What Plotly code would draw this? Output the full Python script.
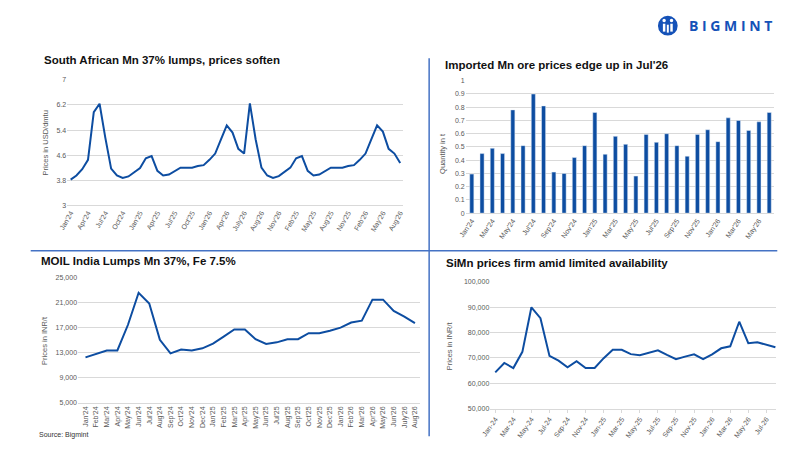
import plotly.graph_objects as go

W, H = 800, 450

# ---------------- data ----------------
# South African Mn 37% lumps (USD/dmtu)
sa_labels = ["Jan'24", "Apr'24", "Jul'24", "Oct'24", "Jan'25", "Apr'25", "Jul'25", "Oct'25",
             "Jan'26", "Apr'26", "July'26", "Aug'26", "Nov'26", "Feb'25", "May'25", "Aug'25",
             "Nov'25", "Feb'26", "May'26", "Aug'26"]
sa_values = [3.82, 3.95, 4.15, 4.45, 5.97, 6.24, 5.15, 4.17, 3.95, 3.87, 3.92, 4.05,
             4.19, 4.50, 4.57, 4.10, 3.95, 3.98, 4.08, 4.20, 4.20, 4.20, 4.25, 4.28,
             4.45, 4.65, 5.10, 5.55, 5.32, 4.80, 4.65, 6.25, 5.10, 4.20, 3.95, 3.87,
             3.93, 4.08, 4.20, 4.50, 4.57, 4.10, 3.95, 3.98, 4.08, 4.20, 4.20, 4.20,
             4.25, 4.28, 4.45, 4.65, 5.10, 5.55, 5.35, 4.80, 4.65, 4.35]
sa_yticks = [3, 3.8, 4.6, 5.4, 6.2, 7]

# Imported Mn ore (quantity in t)
imp_labels = ["Jan'24", "Mar'24", "May'24", "Jul'24", "Sep'24", "Nov'24", "Jan'25", "Mar'25",
              "May'25", "Jul'25", "Sep'25", "Nov'25", "Jan'26", "Mar'26", "May'26"]
imp_values = [0.295, 0.45, 0.49, 0.45, 0.78, 0.51, 0.90, 0.81, 0.31, 0.30,
              0.42, 0.51, 0.76, 0.445, 0.58, 0.52, 0.28, 0.595, 0.535, 0.60,
              0.51, 0.43, 0.595, 0.63, 0.54, 0.72, 0.70, 0.625, 0.69, 0.76]

# MOIL India Lumps Mn 37%, Fe 7.5% (INR/t)
moil_labels = ["Jan'24", "Feb'24", "Mar'24", "Apr'24", "May'24", "Jun'24", "Jul'24", "Aug'24",
               "Sep'24", "Oct'24", "Nov'24", "Dec'24", "Jan'25", "Feb'25", "Mar'25", "Apr'25",
               "May'25", "Jun'25", "Jul'25", "Aug'25", "Sep'25", "Oct'25", "Nov'25", "Dec'25",
               "Jan'26", "Feb'26", "Mar'26", "Apr'26", "May'26", "Jun'26", "July'26", "Aug'26"]
moil_values = [12200, 12700, 13300, 13300, 17400, 22500, 20800, 15000,
               12850, 13450, 13300, 13650, 14400, 15500, 16650, 16650,
               15100, 14350, 14600, 15100, 15100, 16050, 16050, 16450,
               16950, 17750, 18050, 21400, 21400, 19600, 18700, 17650]

# SiMn (INR/t)
simn_labels = ["Jan-24", "Mar-24", "May-24", "Jul-24", "Sep-24", "Nov-24", "Jan-25", "Mar-25",
               "May-25", "Jul-25", "Sep-25", "Nov-25", "Jan-26", "Mar-26", "May-26", "Jul-26"]
simn_values = [64300, 68000, 66000, 72400, 90000, 85700, 70800, 68900,
               66300, 68700, 66000, 66000, 69900, 73200, 73200, 71500,
               71100, 71900, 73000, 71200, 69500, 70500, 71400, 69500,
               71400, 73800, 74600, 84300, 75800, 76200, 75100, 74200]

# ---------------- styling ----------------
BLUE = "#0D4DA1"
GRID = "#D9D9D9"
TICK = "#595959"
FONT = "Liberation Sans"


def xd(a, b):
    return [a / W, b / W]


def yd(top, bottom):
    return [1 - bottom / H, 1 - top / H]


def px(x):
    return x / W


def py(y):
    return 1 - y / H


fig = go.Figure()

fig.add_trace(go.Scatter(x=list(range(len(sa_values))), y=sa_values, mode="lines",
                         line=dict(color=BLUE, width=2), xaxis="x", yaxis="y",
                         showlegend=False, hoverinfo="skip"))
fig.add_trace(go.Bar(x=list(range(len(imp_values))), y=imp_values, marker_color=BLUE,
                     width=0.4, xaxis="x2", yaxis="y2", showlegend=False, hoverinfo="skip"))
fig.add_trace(go.Scatter(x=list(range(len(moil_values))), y=moil_values, mode="lines",
                         line=dict(color=BLUE, width=2), xaxis="x3", yaxis="y3",
                         showlegend=False, hoverinfo="skip"))
fig.add_trace(go.Scatter(x=list(range(len(simn_values))), y=simn_values, mode="lines",
                         line=dict(color=BLUE, width=2), xaxis="x4", yaxis="y4",
                         showlegend=False, hoverinfo="skip"))

tickfont = dict(family=FONT, size=7, color=TICK)

common_x = dict(showgrid=False, zeroline=False, tickfont=tickfont, ticks="",
                showline=True, linecolor=GRID, linewidth=1)
common_y = dict(showgrid=True, gridcolor=GRID, gridwidth=1, zeroline=False,
                tickfont=tickfont, ticks="", showline=False)

fig.update_layout(
    width=W, height=H, margin=dict(l=0, r=0, t=0, b=0),
    paper_bgcolor="white", plot_bgcolor="white",
    font=dict(family=FONT),
    bargap=0.6,
    hovermode=False,
    xaxis=dict(domain=xd(59, 399), range=[-0.6, 57.4], anchor="y",
               tickmode="array", tickvals=list(range(0, len(sa_values), 3)),
               ticktext=sa_labels, tickangle=-60, **common_x),
    yaxis=dict(domain=yd(77, 205), range=[3, 7.03], anchor="x",
               tickmode="array", tickvals=sa_yticks,
               ticktext=[f"{v:g}" for v in sa_yticks], **common_y),
    xaxis2=dict(domain=xd(463, 776), range=[-0.6, 29.5], anchor="y2",
                tickmode="array", tickvals=list(range(0, len(imp_values), 2)),
                ticktext=imp_labels, tickangle=-55, **common_x),
    yaxis2=dict(domain=yd(78, 213), range=[0, 1.006], anchor="x2", dtick=0.1, tick0=0,
                **common_y),
    xaxis3=dict(domain=xd(70, 417), range=[-0.7, 31.5], anchor="y3",
                tickmode="array", tickvals=list(range(len(moil_values))),
                ticktext=moil_labels, tickangle=-90, **common_x),
    yaxis3=dict(domain=yd(277, 405), range=[5000, 25120], anchor="x3", dtick=4000,
                tick0=5000, tickformat=",", **common_y),
    xaxis4=dict(domain=xd(488, 778), range=[-0.55, 31.1], anchor="y4",
                tickmode="array", tickvals=list(range(0, len(simn_values), 2)),
                ticktext=simn_labels, tickangle=-55,
                showgrid=False, zeroline=False, tickfont=tickfont,
                ticks="outside", ticklen=3, tickcolor=GRID,
                showline=True, linecolor=GRID, linewidth=1),
    yaxis4=dict(domain=yd(282, 411), range=[50000, 100300], anchor="x4", dtick=10000,
                tick0=50000, tickformat=",", **common_y),
)

title_font = dict(family=FONT, size=11.5, color="#111111")
ann = []
for text, x, y in [("<b>South African Mn 37% lumps, prices soften</b>", 33, 58),
                   ("<b>Imported Mn ore prices edge up in Jul'26</b>", 440, 63),
                   ("<b>MOIL India Lumps Mn 37%, Fe 7.5%</b>", 30, 261),
                   ("<b>SiMn prices firm amid limited availability</b>", 441, 264)]:
    ann.append(dict(text=text, x=px(x), y=py(y), xref="paper", yref="paper",
                    xanchor="left", yanchor="middle", showarrow=False, font=title_font))

ytitle_font = dict(family=FONT, size=7.5, color=TICK)
for text, x, y in [("Prices in USD/dmtu", 37, 142),
                   ("Quantity in t", 440, 152),
                   ("Prices in INR/t", 36, 342),
                   ("Prices in INR/t", 447, 347)]:
    ann.append(dict(text=text, x=px(x), y=py(y), xref="paper", yref="paper",
                    xanchor="center", yanchor="middle", textangle=-90, showarrow=False,
                    font=ytitle_font))

ann.append(dict(text="Source: Bigmint", x=px(28), y=py(438), xref="paper", yref="paper",
                xanchor="left", yanchor="middle", showarrow=False,
                font=dict(family=FONT, size=7, color="#333333")))
ann.append(dict(text="<b>B I G M I N T</b>", x=px(687), y=py(23), xref="paper", yref="paper",
                xanchor="left", yanchor="middle", showarrow=False,
                font=dict(family="Open Sans", size=14, color="#1552B8")))
fig.update_layout(annotations=ann)

DIV = "#4472C4"
LOGO = "#1552B8"
shapes = [
    dict(type="line", xref="paper", yref="paper", x0=px(426), x1=px(426), y0=py(56), y1=py(439),
         line=dict(color=DIV, width=1.5)),
    dict(type="line", xref="paper", yref="paper", x0=px(22), x1=px(779), y0=py(251), y1=py(251),
         line=dict(color=DIV, width=1.5)),
    dict(type="circle", xref="paper", yref="paper", x0=px(658), x1=px(678), y0=py(33), y1=py(13),
         fillcolor=LOGO, line=dict(width=0)),
    dict(type="circle", xref="paper", yref="paper", x0=px(662.5), x1=px(666), y0=py(19.5), y1=py(16),
         fillcolor="white", line=dict(width=0)),
    dict(type="circle", xref="paper", yref="paper", x0=px(670), x1=px(673.5), y0=py(19.5), y1=py(16),
         fillcolor="white", line=dict(width=0)),
    dict(type="rect", xref="paper", yref="paper", x0=px(663), x1=px(665.5), y0=py(29), y1=py(21),
         fillcolor="white", line=dict(width=0)),
    dict(type="rect", xref="paper", yref="paper", x0=px(670.5), x1=px(673), y0=py(29), y1=py(21),
         fillcolor="white", line=dict(width=0)),
    dict(type="rect", xref="paper", yref="paper", x0=px(667), x1=px(669), y0=py(30), y1=py(22),
         fillcolor="white", line=dict(width=0)),
]
fig.update_layout(shapes=shapes)

fig.write_html("out.html", config={"displayModeBar": False},
               post_script="document.body.style.margin='0';")
